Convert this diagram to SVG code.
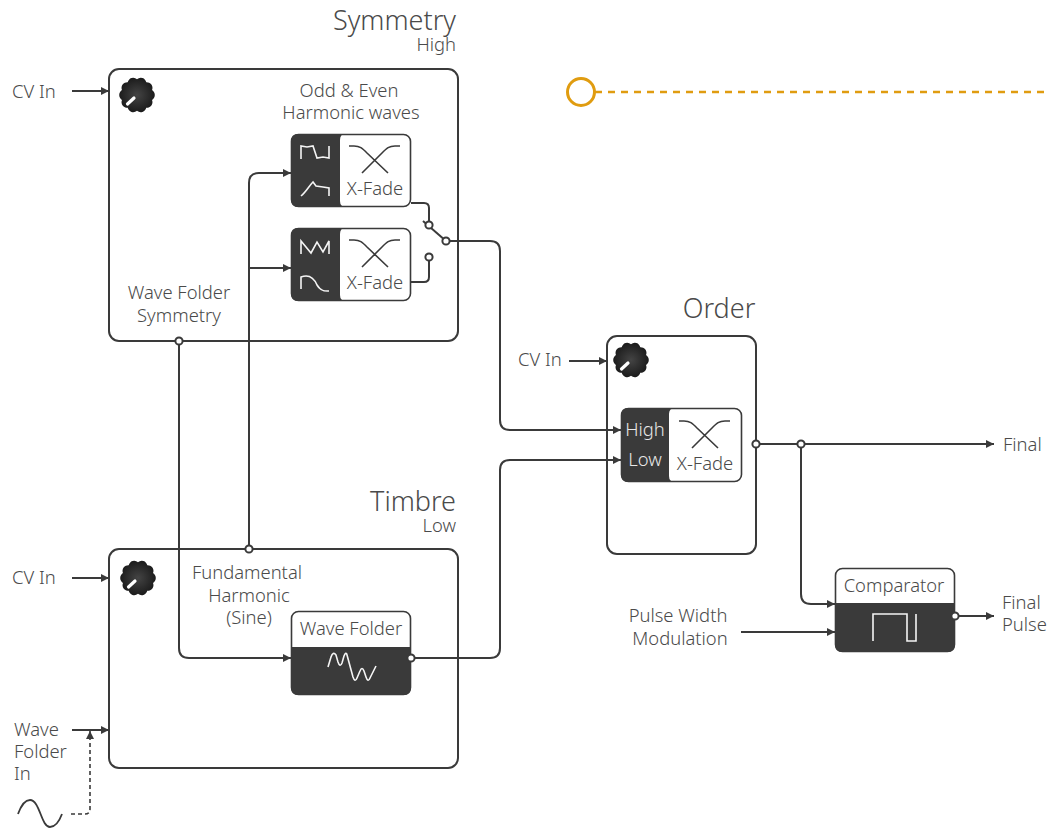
<svg xmlns="http://www.w3.org/2000/svg" width="1047" height="829" viewBox="0 0 1047 829">
<style>
text{font-family:"Noto Sans","Open Sans",sans-serif;font-weight:300;font-size:18.4px;fill:#4a4a4a;text-anchor:middle}
.l{text-anchor:start}.e{text-anchor:end}
.t{font-size:27px}
.w{fill:#e8e8e8}
.box{fill:#fff;stroke:#3a3a3a;stroke-width:2}
.sb{fill:#fff;stroke:#3a3a3a;stroke-width:1.6}
.dark{fill:#3a3a3a}
.wv{fill:none;stroke:#f4f4f4;stroke-width:1.6}
.xf{fill:none;stroke:#3a3a3a;stroke-width:1.6}
.c{fill:none;stroke:#3a3a3a;stroke-width:2}
.n{fill:#fff;stroke:#3a3a3a;stroke-width:2}
</style>
<defs>
<marker id="a" markerUnits="userSpaceOnUse" markerWidth="10" markerHeight="10" refX="8" refY="5" orient="auto"><path d="M0 1L8 5L0 9Z" fill="#3a3a3a"/></marker>
<radialGradient id="kg"><stop offset="0" stop-color="#444"/><stop offset="1" stop-color="#1c1c1c"/></radialGradient>
<g id="knob"><path fill="url(#kg)" d="M14.74 4.79A5.6 5.6 0 0 0 14.74 -4.79A5.6 5.6 0 0 0 9.11 -12.54A5.6 5.6 0 0 0 0 -15.5A5.6 5.6 0 0 0 -9.11 -12.54A5.6 5.6 0 0 0 -14.74 -4.79A5.6 5.6 0 0 0 -14.74 4.79A5.6 5.6 0 0 0 -9.11 12.54A5.6 5.6 0 0 0 0 15.5A5.6 5.6 0 0 0 9.11 12.54A5.6 5.6 0 0 0 14.74 4.79Z" transform="scale(1.02)"/><path d="M-9.5 9L-3 3" stroke="#fff" stroke-width="3.2" stroke-linecap="round"/></g>
<g id="fade"><path class="xf" d="M9 -5H14C20 -5 22 -3 27 2L48 22M60 -5H55C49 -5 47 -3 42 2L22 22"/></g>
</defs>

<g id="symmetry">
<rect class="box" x="109" y="69" width="349" height="272" rx="10"/>
<use href="#knob" x="137" y="95"/>
<text class="t e" x="456" y="30">Symmetry</text>
<text class="e" x="456" y="51">High</text>
<text x="349" y="97">Odd &amp; Even</text>
<text x="351" y="119">Harmonic waves</text>
<text x="179" y="299">Wave Folder</text>
<text x="179" y="322">Symmetry</text>
</g>

<g id="xfade1">
<rect class="sb" x="291.5" y="134.5" width="119" height="72" rx="7"/>
<path class="dark" d="M298 134H345Q340 134 340 140V201Q340 207 346 207H298Q291 207 291 200V141Q291 134 298 134Z"/>
<path class="wv" d="M301 159V146L307 147L313 146L317 158L323 157L329 158V146"/>
<path class="wv" d="M301 196C306 192 309 186 313 182L316 186L323 187L329 188V196"/>
<use href="#fade" x="340" y="151"/>
<text x="375" y="195">X-Fade</text>
</g>

<g id="xfade2">
<rect class="sb" x="291.5" y="228.5" width="119" height="72" rx="7"/>
<path class="dark" d="M298 228H345Q340 228 340 234V295Q340 301 346 301H298Q291 301 291 294V235Q291 228 298 228Z"/>
<path class="wv" d="M301 254V241L311 253L317 242L323 252L329 241V254"/>
<path class="wv" d="M301 289V277C309 274 314 278 317 285C321 292 326 291 329 291"/>
<use href="#fade" x="340" y="245"/>
<text x="375" y="289">X-Fade</text>
</g>

<g id="order">
<rect class="box" x="607" y="336" width="149" height="218" rx="10"/>
<use href="#knob" x="631" y="360"/>
<text class="t" x="719" y="318">Order</text>
</g>

<g id="xfade3">
<rect class="sb" x="621.5" y="408.5" width="120" height="73" rx="7"/>
<path class="dark" d="M628 408H675Q669 408 669 414V476Q669 482 675 482H628Q621 482 621 475V415Q621 408 628 408Z"/>
<use href="#fade" x="670" y="426"/>
<text class="w" x="645" y="436">High</text>
<text class="w" x="645" y="466">Low</text>
<text x="705" y="470">X-Fade</text>
</g>

<g id="timbre">
<rect class="box" x="109" y="549" width="349" height="219" rx="10"/>
<use href="#knob" x="138" y="578"/>
<text class="t e" x="456" y="511">Timbre</text>
<text class="e" x="456" y="532">Low</text>
<text x="247" y="579">Fundamental</text>
<text x="249" y="602">Harmonic</text>
<text x="249" y="624">(Sine)</text>
</g>

<g id="wavefolder">
<rect class="sb" x="291.5" y="611.5" width="119" height="83" rx="7"/>
<path class="dark" d="M291 647H411V688Q411 695 404 695H298Q291 695 291 688Z"/>
<path class="wv" d="M328 667L331 657Q333 651 336 655L338 662Q340 668 342 663L344 656Q346 651 347 655L353 677Q355 683 357 678L360 671Q362 666 364 671L366 677Q368 683 370 678L376 666"/>
<text x="351" y="635">Wave Folder</text>
</g>

<g id="comparator">
<rect class="sb" x="835.5" y="568.5" width="119" height="83" rx="7"/>
<path class="dark" d="M835 603H955V645Q955 652 948 652H842Q835 652 835 645Z"/>
<path class="wv" d="M873 641V614H907V641H916V614"/>
<text x="894" y="592">Comparator</text>
</g>

<g id="connectors">
<path class="c" marker-end="url(#a)" d="M72 91H109"/>
<path class="c" marker-end="url(#a)" d="M72 578H109"/>
<path class="c" marker-end="url(#a)" d="M72 730H109"/>
<path class="c" marker-end="url(#a)" d="M569 361H607"/>
<path class="c" marker-end="url(#a)" d="M179 341V648Q179 658 189 658H291"/>
<path class="c" marker-end="url(#a)" d="M249 549V183Q249 173 259 173H291"/>
<path class="c" marker-end="url(#a)" d="M249 268H291"/>
<path class="c" d="M411 203H424Q429 203 429 208V225"/>
<path class="c" d="M411 282H424Q429 282 429 277V257"/>
<path class="c" d="M423 221L446 241"/>
<path class="c" marker-end="url(#a)" d="M446 241H490Q500 241 500 251V420Q500 430 510 430H621"/>
<path class="c" marker-end="url(#a)" d="M411 658H490Q500 658 500 648V470Q500 460 510 460H621"/>
<path class="c" marker-end="url(#a)" d="M756 444H994"/>
<path class="c" marker-end="url(#a)" d="M801 444V594Q801 604 811 604H835"/>
<path class="c" marker-end="url(#a)" d="M741 632H835"/>
<path class="c" marker-end="url(#a)" d="M955 616H994"/>
<path class="c" stroke-dasharray="4 3" style="stroke-width:1.6" marker-end="url(#a)" d="M71 814H85Q90 814 90 809V731"/>
<circle class="n" cx="429" cy="225" r="3.6"/>
<circle class="n" cx="429" cy="257" r="3.6"/>
<circle class="n" cx="446" cy="241" r="3.6"/>
<circle class="n" cx="179" cy="341" r="3.6"/>
<circle class="n" cx="249" cy="549" r="3.6"/>
<circle class="n" cx="801" cy="444" r="3.6"/>
<circle class="n" cx="756" cy="444" r="3.6"/>
<circle class="n" cx="411" cy="658" r="3.6"/>
<circle class="n" cx="955" cy="616" r="3.6"/>
</g>

<g id="sine"><path fill="none" stroke="#3a3a3a" stroke-width="1.8" d="M18 814C22 803 26 800 30 800C40 800 41 827 50 827C55 827 59 822 62 814"/></g>

<g id="legend">
<circle cx="581" cy="92" r="13.5" fill="#fff" stroke="#e09c10" stroke-width="3"/>
<path d="M595 92H1045" stroke="#e09c10" stroke-width="2.4" stroke-dasharray="7 6" fill="none"/>
</g>

<g id="labels">
<text class="l" x="12" y="98">CV In</text>
<text class="l" x="12" y="584">CV In</text>
<text class="l" x="518" y="366">CV In</text>
<text class="l" x="14" y="736">Wave</text>
<text class="l" x="14" y="758">Folder</text>
<text class="l" x="14" y="780">In</text>
<text x="678" y="622">Pulse Width</text>
<text x="680" y="645">Modulation</text>
<text class="l" x="1003" y="451">Final</text>
<text class="l" x="1002" y="609">Final</text>
<text class="l" x="1002" y="631">Pulse</text>
</g>
</svg>
